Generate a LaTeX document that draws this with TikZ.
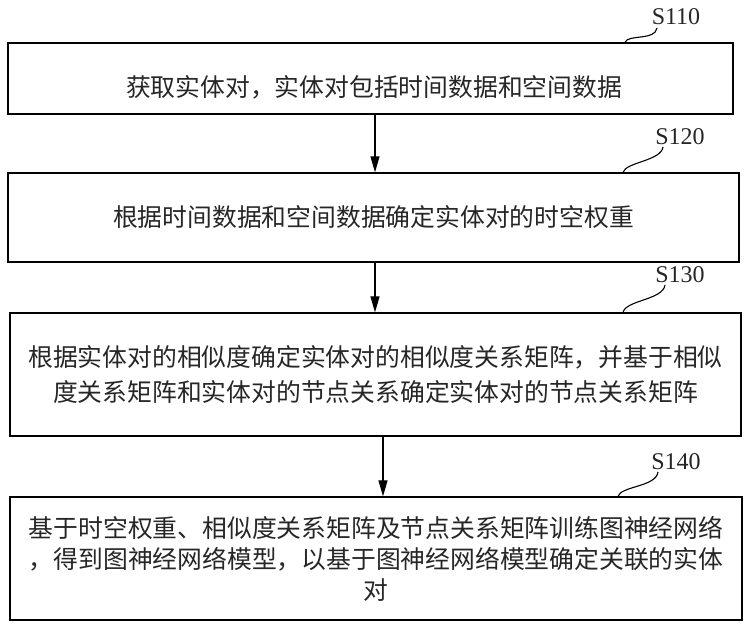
\documentclass[tikz,border=0pt]{standalone}
\usepackage{fontspec}
\setmainfont{Liberation Serif}
\newfontfamily\cjk{Noto Sans CJK SC}
\usetikzlibrary{arrows.meta}
\begin{document}
\begin{tikzpicture}[x=1pt,y=-1pt,
  stepbox/.style={draw=black,line width=1.3pt,rectangle,inner sep=0pt,align=center,text=black!85},
  steptext/.style={inner sep=0pt,align=center,text=black!85},
  steplbl/.style={font=\fontsize{24}{26}\selectfont,inner sep=0pt,text=black!85},
  flow/.style={line width=1.2pt,-{Triangle[length=16pt,width=9pt]}},
  squig/.style={line width=1.1pt}]
\useasboundingbox (0,0) rectangle (750,628);
\node[stepbox,minimum width=725pt,minimum height=71pt] (b1) at (370.5,78.5) {};
\node[steptext,font=\cjk\fontsize{24.8}{30}\selectfont] (t1) at (374,87.5)
  {获取实体对，实体对包括时间数据和空间数据};
\node[stepbox,minimum width=731pt,minimum height=89pt,font=\cjk\fontsize{24.8}{30}\selectfont] (b2) at (373.5,217.5)
  {根据时间数据和空间数据确定实体对的时空权重};
\node[stepbox,minimum width=731pt,minimum height=123pt,font=\cjk\fontsize{24.8}{35}\selectfont] (b3) at (375.5,374.5)
  {根据实体对的相似度确定实体对的相似度关系矩阵，并基于相似\\度关系矩阵和实体对的节点关系确定实体对的节点关系矩阵};
\node[stepbox,minimum width=732pt,minimum height=123pt,font=\cjk\fontsize{24.8}{31}\selectfont] (b4) at (376,558.5)
  {基于时空权重、相似度关系矩阵及节点关系矩阵训练图神经网络\\，得到图神经网络模型，以基于图神经网络模型确定关联的实体\\对};
\draw[flow] (b1.south -| 375,0) -- (b2.north -| 375,0);
\draw[flow] (b2.south -| 375,0) -- (b3.north -| 375,0);
\draw[flow] (b3.south -| 383,0) -- (b4.north -| 383,0);
\node[steplbl] (l1) at (676,17) {S110};
\node[steplbl] (l2) at (680,137) {S120};
\node[steplbl] (l3) at (680,275) {S130};
\node[steplbl] (l4) at (676,462) {S140};
\coordinate (e1) at (657,28);
\coordinate (e2) at (663,147);
\coordinate (e3) at (665,285);
\coordinate (e4) at (658,472);
\draw[squig] (b1.north -| 625,0) .. controls (628,34) and (655,41) .. (e1);
\draw[squig] (b2.north -| 623,0) .. controls (626,162) and (661,161) .. (e2);
\draw[squig] (b3.north -| 623,0) .. controls (626,300) and (663,300) .. (e3);
\draw[squig] (b4.north -| 618,0) .. controls (621,486) and (656,487) .. (e4);
\end{tikzpicture}
\end{document}
